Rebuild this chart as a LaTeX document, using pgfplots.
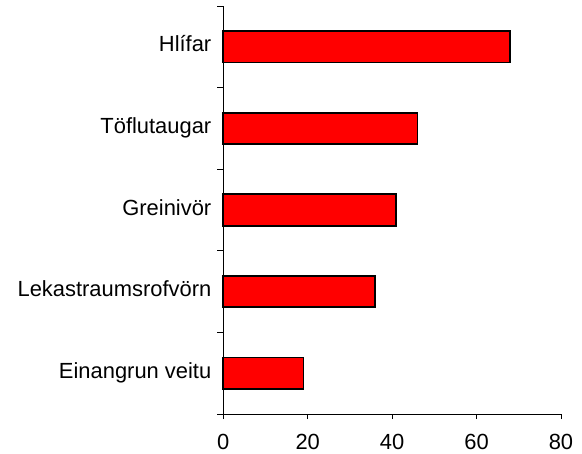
\documentclass[border=0pt]{standalone}
\usepackage{pgfplots}
\pgfplotsset{compat=1.18}
\usepackage{fontspec}
\setmainfont{Liberation Sans}
\begin{document}
\begin{tikzpicture}
\useasboundingbox (-223.3bp,-40bp) rectangle (358.7bp,414bp);
\begin{axis}[
 at={(0,0)}, anchor=south west,
 scale only axis, width=337.7bp, height=408bp,
 xmin=0, xmax=80, ymin=-0.5, ymax=4.5,
 axis x line*=bottom, axis y line*=left,
 axis line style={black, line width=0.8bp, -},
 xtick={0,20,...,80},
 ytick={0,...,4},
 yticklabels={Einangrun veitu, Lekastraumsrofvörn, Greinivör, Töflutaugar, Hlífar},
 minor ytick={-0.5,0.5,...,4.5},
 tick align=outside,
 major tick length=5bp, minor tick length=6bp,
 every major y tick/.append style={draw=none},
 tick style={black, line width=0.8bp},
 /pgf/number format/assume math mode=true,
 tick label style={font=\fontsize{22}{26}\selectfont},
 yticklabel style={anchor=east, inner sep=0pt, xshift=-6.8bp},
 xticklabel style={anchor=north, inner sep=0pt, yshift=-12bp},
 typeset ticklabels with strut=false,
 clip=false,
]
\addplot[xbar, bar width=31.3bp, fill=red, draw=black, line width=1.8bp]
 coordinates {(19,0) (36,1) (41,2) (46,3) (68,4)};
\end{axis}
\end{tikzpicture}
\end{document}
